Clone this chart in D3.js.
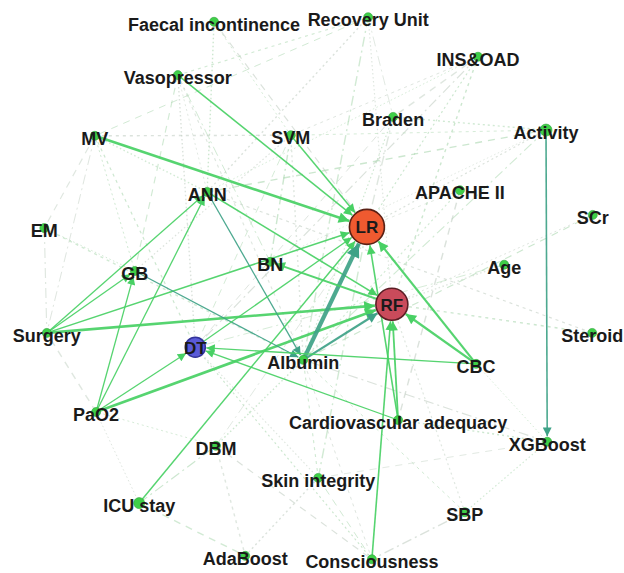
<!DOCTYPE html>
<html>
<head>
<meta charset="utf-8">
<script src="https://cdn.jsdelivr.net/npm/d3@7"></script>
<style>
  html, body { margin: 0; padding: 0; background: #ffffff; }
  svg { display: block; }
  .label { font-family: "Liberation Sans", Arial, sans-serif; font-weight: bold; font-size: 18px; fill: #1a1a1a; }
</style>
</head>
<body>
<svg id="chart" width="624" height="573"></svg>
<script>
// Node names and their layout positions (percent of the canvas width / height)
const nodeNames = [
  "Faecal incontinence", "Recovery Unit", "INS&OAD", "Vasopressor", "Braden",
  "Activity", "MV", "SVM", "APACHE II", "ANN", "LR", "SCr", "EM", "BN", "Age",
  "GB", "RF", "Surgery", "Steroid", "DT", "Albumin", "CBC", "PaO2",
  "Cardiovascular adequacy", "XGBoost", "DBM", "Skin integrity", "ICU stay",
  "SBP", "AdaBoost", "Consciousness"
];
const nodeX = [34.3, 59.0, 76.6, 28.5, 63.0, 87.5, 15.2, 46.6, 73.7, 33.2, 58.8, 95.0, 7.1, 43.3, 80.8,
               21.6, 62.8, 7.5, 94.9, 31.3, 48.6, 76.3, 15.4, 63.8, 87.7, 34.6, 51.0, 22.3, 74.5, 39.3, 59.6];
const nodeY = [3.8, 3.0, 9.9, 13.1, 20.4, 22.7, 23.7, 23.6, 33.2, 33.5, 39.6, 37.5, 39.8, 45.7, 46.2,
               47.3, 53.1, 58.1, 58.1, 60.6, 62.8, 63.5, 71.9, 73.3, 77.1, 77.8, 83.4, 87.8, 89.4, 97.0, 97.6];
// Node group: 0 = feature, 1 = LR, 2 = RF, 3 = DT
const nodeGroup = nodeNames.map(n => n === "LR" ? 1 : n === "RF" ? 2 : n === "DT" ? 3 : 0);
// Importance used for node size
const nodeWeight = nodeNames.map(n => ({"LR": 17.5, "RF": 16, "DT": 10, "Activity": 6, "ICU stay": 5.5}[n] || 4.5));

// Directed, weighted links (source, target, weight, kind: g = green, t = teal)
const strongSource = ["MV", "Vasopressor", "SVM", "Surgery", "Surgery", "PaO2", "ANN", "Surgery", "PaO2",
  "Surgery", "PaO2", "ANN", "GB", "DT", "ICU stay", "Albumin", "Albumin", "CBC", "CBC", "CBC",
  "Cardiovascular adequacy", "Cardiovascular adequacy", "Cardiovascular adequacy", "Consciousness",
  "RF", "Activity", "PaO2"];
const strongTarget = ["LR", "LR", "LR", "LR", "RF", "RF", "RF", "ANN", "ANN",
  "GB", "GB", "Albumin", "Albumin", "LR", "LR", "LR", "RF", "LR", "RF", "DT",
  "DT", "RF", "LR", "RF",
  "BN", "XGBoost", "DT"];
const strongWeight = [2.6, 1.5, 1.5, 1.5, 2.6, 2.6, 1.6, 1.3, 1.3,
  1.3, 1.3, 1.3, 1.3, 1.3, 1.5, 4.2, 2.2, 2.2, 2.4, 1.4,
  1.3, 1.8, 1.6, 1.6,
  2.0, 1.6, 1.3];
const strongKind = ["g", "g", "g", "g", "g", "g", "g", "g", "g",
  "g", "g", "t", "t", "g", "g", "t", "t", "g", "g", "g",
  "g", "g", "g", "g",
  "g", "t", "g"];

// Weak associations drawn as faint dashed / dotted links
const weakSource = ["Faecal incontinence", "Faecal incontinence", "Faecal incontinence",
  "Recovery Unit", "Recovery Unit", "Recovery Unit", "Recovery Unit", "Recovery Unit", "Recovery Unit",
  "INS&OAD", "INS&OAD", "INS&OAD", "INS&OAD", "INS&OAD", "INS&OAD",
  "Vasopressor", "Vasopressor", "Vasopressor", "Vasopressor", "Vasopressor",
  "Braden", "Braden", "Braden", "Braden",
  "SVM", "Activity", "Activity", "Activity", "Activity",
  "MV", "MV", "MV", "MV", "MV", "MV",
  "SVM", "SVM", "SVM", "SVM",
  "APACHE II", "APACHE II", "APACHE II",
  "EM", "EM", "EM", "SCr", "SCr", "Age", "Age", "ANN",
  "Cardiovascular adequacy", "Skin integrity", "SBP", "SBP", "SBP", "SBP",
  "ICU stay", "ICU stay", "ICU stay", "DBM", "DBM", "DBM", "DBM", "DBM",
  "Skin integrity", "Skin integrity", "Skin integrity", "Skin integrity", "Skin integrity",
  "Consciousness", "Consciousness", "PaO2", "XGBoost", "XGBoost", "Steroid"];
const weakTarget = ["SVM", "LR", "ANN",
  "Braden", "Vasopressor", "ANN", "MV", "RF", "Albumin",
  "SVM", "LR", "Braden", "ANN", "DT", "RF",
  "ANN", "GB", "DT", "BN", "Albumin",
  "Activity", "DT", "Albumin", "LR",
  "Activity", "LR", "ANN", "BN", "Albumin",
  "SVM", "GB", "EM", "ANN", "Surgery", "DT",
  "Albumin", "DT", "GB", "BN",
  "LR", "Albumin", "Cardiovascular adequacy",
  "GB", "Surgery", "Albumin", "RF", "Albumin", "RF", "DT", "Steroid",
  "XGBoost", "XGBoost", "XGBoost", "Consciousness", "Albumin", "RF",
  "AdaBoost", "PaO2", "DBM", "AdaBoost", "PaO2", "Consciousness", "Albumin", "LR",
  "Albumin", "AdaBoost", "Consciousness", "DT", "LR",
  "Albumin", "DT", "Surgery", "CBC", "Albumin", "RF"];

const svg = d3.select("#chart");
const W = 624, H = 573;
const x = d3.scaleLinear().domain([0, 100]).range([0, W]);
const y = d3.scaleLinear().domain([0, 100]).range([0, H]);

const nodes = nodeNames.map((name, i) => ({
  name, x: x(nodeX[i]), y: y(nodeY[i]), group: nodeGroup[i], r: nodeWeight[i]
}));
const byName = new Map(nodes.map(n => [n.name, n]));

const edgeColor = { g: "#48d064", t: "#3ea287" };
const weakColors = ["#b4ddb8", "#c4d0c5", "#abd8b0", "#cbd8cc"];
const weakDash = ["2,3", "7,6", "1.5,2.5", "10,4,2,4", "3,4"];

// Faint links
const weak = weakSource.map((s, i) => ({ s: byName.get(s), t: byName.get(weakTarget[i]), i }));
svg.append("g").attr("class", "weak-links")
  .selectAll("line").data(weak).join("line")
  .attr("x1", d => d.s.x).attr("y1", d => d.s.y)
  .attr("x2", d => d.t.x).attr("y2", d => d.t.y)
  .attr("stroke", d => weakColors[d.i % weakColors.length])
  .attr("stroke-width", d => 0.9 + (d.i % 3) * 0.25)
  .attr("stroke-dasharray", d => weakDash[d.i % weakDash.length])
  .attr("opacity", 0.6);

// Arrowhead markers, one per link so the head scales with the line
const strong = strongSource.map((s, i) => ({
  s: byName.get(s), t: byName.get(strongTarget[i]), w: strongWeight[i], k: strongKind[i], i
}));
const defs = svg.append("defs");
defs.selectAll("marker").data(strong).join("marker")
  .attr("id", d => "arrow" + d.i)
  .attr("viewBox", "0 -5 10 10")
  .attr("refX", 10).attr("refY", 0)
  .attr("markerUnits", "userSpaceOnUse")
  .attr("markerWidth", d => 7 + d.w * 2.2)
  .attr("markerHeight", d => 6 + d.w * 1.8)
  .attr("orient", "auto")
  .append("path")
  .attr("d", "M0,-5L10,0L0,5Z")
  .attr("fill", d => edgeColor[d.k]);

function endPoint(d) {
  const dx = d.t.x - d.s.x, dy = d.t.y - d.s.y;
  const len = Math.hypot(dx, dy);
  const off = d.t.r + 1;
  return [d.t.x - dx / len * off, d.t.y - dy / len * off];
}

svg.append("g").attr("class", "strong-links")
  .selectAll("line").data(strong).join("line")
  .attr("x1", d => d.s.x).attr("y1", d => d.s.y)
  .attr("x2", d => endPoint(d)[0]).attr("y2", d => endPoint(d)[1])
  .attr("stroke", d => edgeColor[d.k])
  .attr("stroke-width", d => d.w)
  .attr("stroke-opacity", 0.92)
  .attr("marker-end", d => `url(#arrow${d.i})`);

// Nodes
const fill = ["#3fcf48", "#ef5a30", "#c94b5b", "#5b5bd8"];
const stroke = ["#2fa33c", "#5a2014", "#5a1e24", "#33339a"];
svg.append("g").attr("class", "nodes")
  .selectAll("circle").data(nodes).join("circle")
  .attr("cx", d => d.x).attr("cy", d => d.y).attr("r", d => d.r)
  .attr("fill", d => fill[d.group])
  .attr("stroke", d => stroke[d.group])
  .attr("stroke-width", d => d.group ? 1.6 : 0.6);

// Labels
svg.append("g").attr("class", "labels")
  .selectAll("text").data(nodes).join("text")
  .attr("class", "label")
  .attr("x", d => d.x)
  .attr("y", d => d.y + (d.group ? 1 : 3))
  .attr("text-anchor", "middle")
  .attr("dominant-baseline", "central")
  .style("font-size", d => d.group ? "17px" : "18px")
  .text(d => d.name);
</script>
</body>
</html>
